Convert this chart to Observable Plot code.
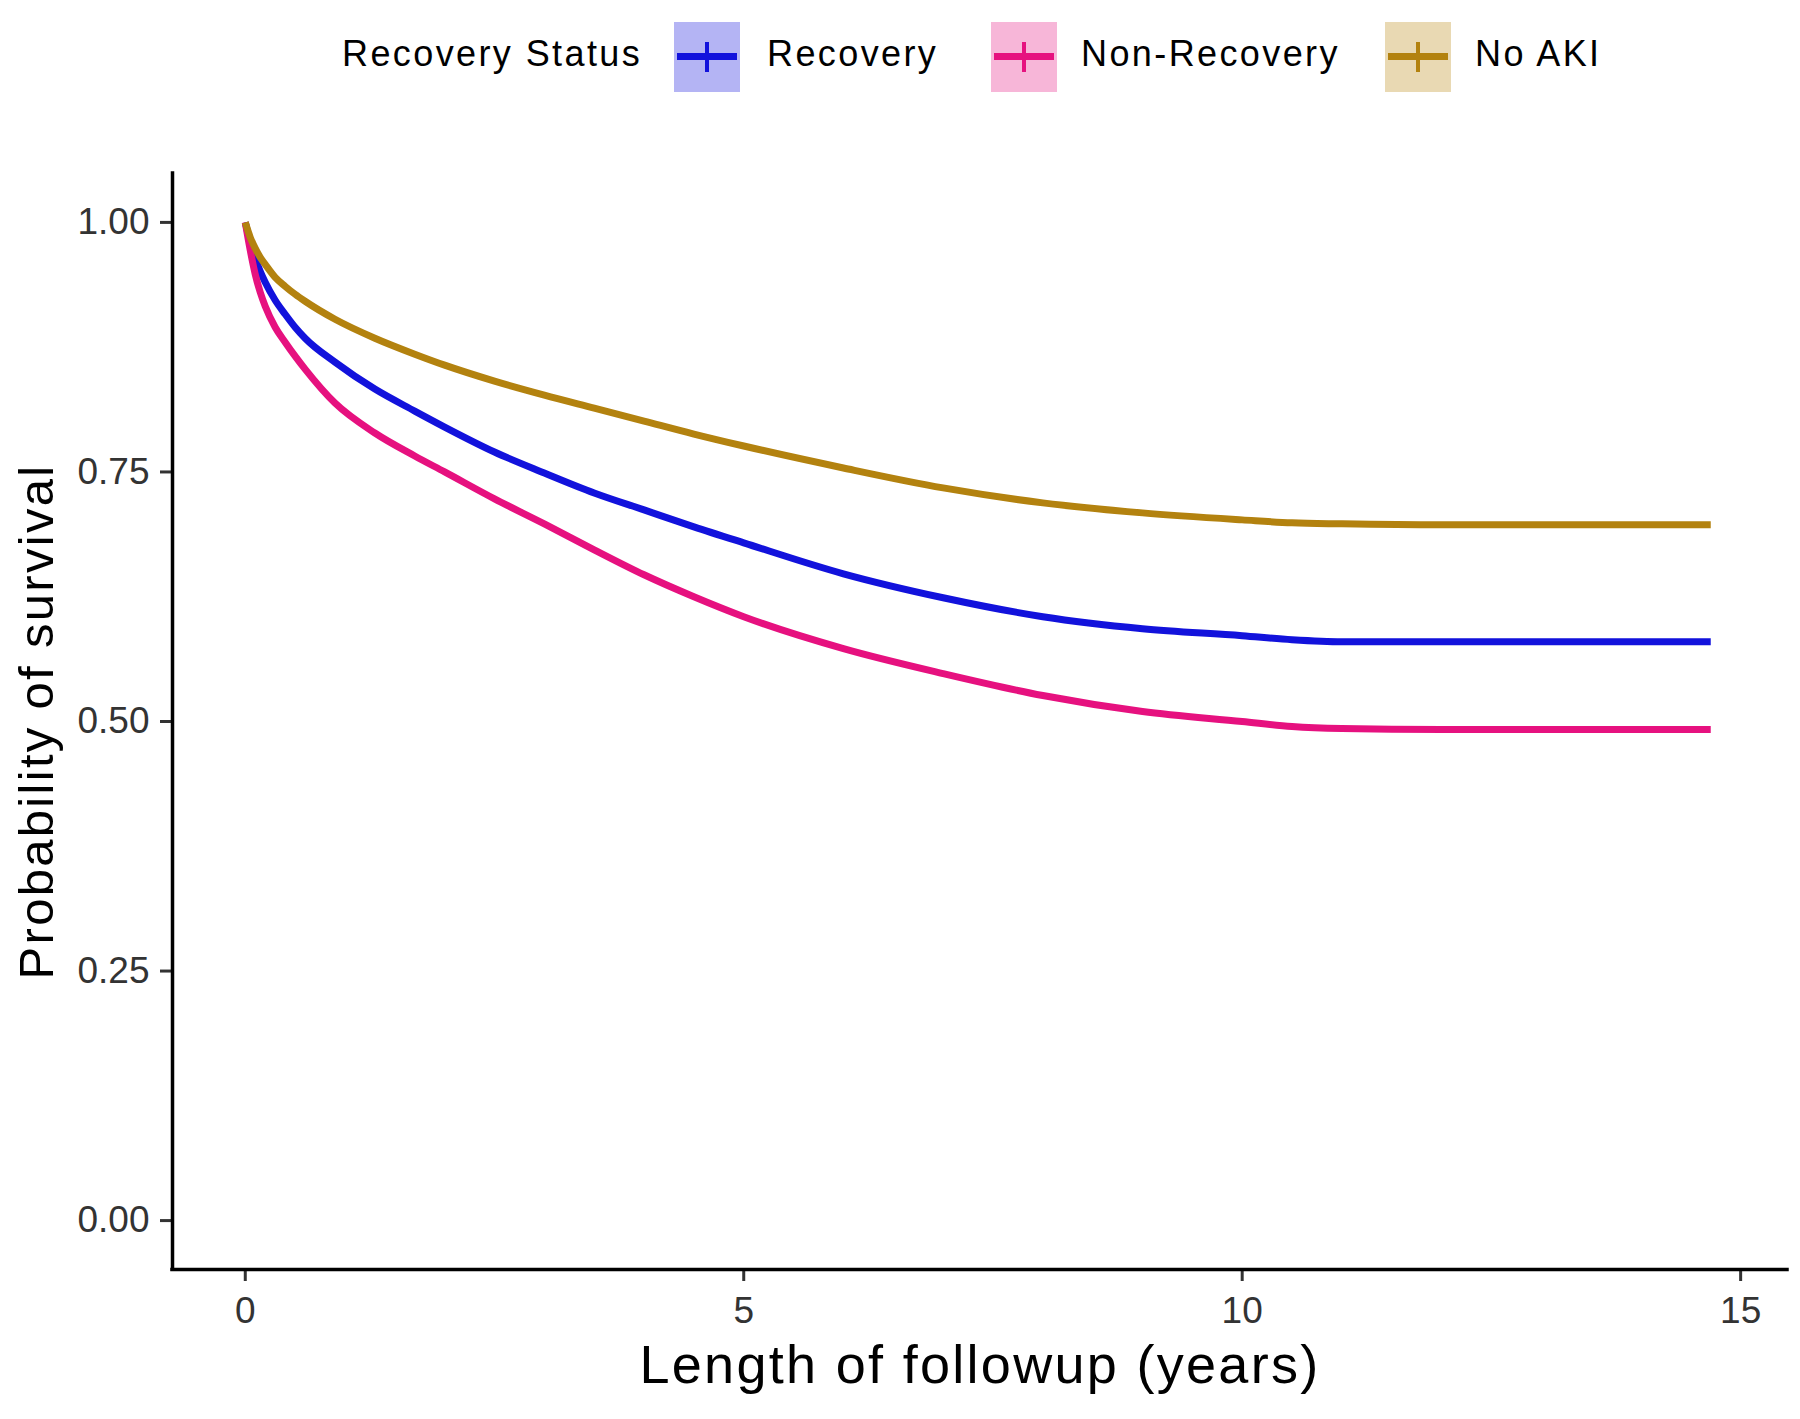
<!DOCTYPE html>
<html>
<head>
<meta charset="utf-8">
<script src="https://cdn.jsdelivr.net/npm/d3@7"></script>
<script src="https://cdn.jsdelivr.net/npm/@observablehq/plot@0.6"></script>
<style>
  html, body { margin: 0; padding: 0; background: #fff; }
  body { width: 1800px; font-family: "Liberation Sans", Arial, sans-serif; }
  #legend { position: relative; width: 1800px; height: 110px; }
  #legend .lab { position: absolute; top: 36px; font-size: 36px; line-height: 36px; letter-spacing: 2.4px; color: #000; white-space: nowrap; }
  #legend .key { position: absolute; top: 22px; width: 66px; height: 70px; }
  #legend .key .h { position: absolute; left: 3px; right: 3px; top: 31px; height: 7px; }
  #legend .key .v { position: absolute; left: 31px; width: 4px; top: 20px; height: 30px; }
</style>
</head>
<body>
<div id="legend"></div>
<div id="chart"></div>
<script>
// ---- data ----
const seriesNames = ["Recovery", "Non-Recovery", "No AKI"];
const seriesColors = ["#1212dc", "#e6117f", "#b3820f"];
const keyFills = ["#b4b4f4", "#f7b6d8", "#e9d9b3"];
const legendTitle = "Recovery Status";

const times       = [0, 0.05, 0.1, 0.15, 0.2, 0.3, 0.4, 0.5, 0.6, 0.9, 1.3, 1.7, 2.0, 2.5, 3.0, 3.5, 4.0, 4.5, 5.0, 6.0, 7.0, 8.0, 9.0, 10.0, 10.5, 11, 12, 13, 14, 14.7];
const recovery    = [1.0, 0.980, 0.964, 0.951, 0.940, 0.922, 0.908, 0.895, 0.884, 0.860, 0.833, 0.811, 0.795, 0.770, 0.749, 0.729, 0.712, 0.695, 0.679, 0.648, 0.624, 0.605, 0.593, 0.586, 0.582, 0.580, 0.580, 0.580, 0.580, 0.580];
const nonRecovery = [1.0, 0.972, 0.948, 0.930, 0.916, 0.895, 0.880, 0.866, 0.853, 0.819, 0.789, 0.766, 0.750, 0.723, 0.698, 0.672, 0.647, 0.625, 0.605, 0.573, 0.548, 0.526, 0.510, 0.500, 0.495, 0.493, 0.492, 0.492, 0.492, 0.492];
const noAKI       = [1.0, 0.985, 0.974, 0.965, 0.958, 0.945, 0.936, 0.928, 0.921, 0.903, 0.884, 0.868, 0.857, 0.841, 0.827, 0.814, 0.801, 0.788, 0.776, 0.754, 0.734, 0.719, 0.709, 0.702, 0.699, 0.698, 0.697, 0.697, 0.697, 0.697];

const xTicks = [0, 5, 10, 15];
const yTicks = [0, 0.25, 0.5, 0.75, 1.0];
const xLabel = "Length of followup (years)";
const yLabel = "Probability of survival";

// ---- table ----
const seriesValues = [recovery, nonRecovery, noAKI];
const rows = [];
seriesNames.forEach((name, i) => {
  times.forEach((t, j) => rows.push({time: t, surv: seriesValues[i][j], group: name}));
});

// ---- legend ----
const legend = document.getElementById("legend");
const legendPos = {title: 342, keys: [674, 991, 1385], labels: [767, 1081, 1475]};
function addLab(text, left) {
  const s = document.createElement("div");
  s.className = "lab"; s.textContent = text; s.style.left = left + "px";
  legend.appendChild(s);
}
addLab(legendTitle, legendPos.title);
seriesNames.forEach((name, i) => {
  const k = document.createElement("div");
  k.className = "key"; k.style.left = legendPos.keys[i] + "px"; k.style.background = keyFills[i];
  const h = document.createElement("div"); h.className = "h"; h.style.background = seriesColors[i];
  const v = document.createElement("div"); v.className = "v"; v.style.background = seriesColors[i];
  k.appendChild(h); k.appendChild(v);
  legend.appendChild(k);
  addLab(name, legendPos.labels[i]);
});

// ---- chart ----
const xDomain = [-0.73, 15.47];
const yDomain = [-0.049, 1.049];

const plot = Plot.plot({
  width: 1800,
  height: 1309,
  marginTop: 63,
  marginBottom: 150,
  marginLeft: 172,
  marginRight: 13,
  style: {fontFamily: '"Liberation Sans", Arial, sans-serif', background: "#fff"},
  x: {domain: xDomain},
  y: {domain: yDomain},
  color: {domain: seriesNames, range: seriesColors},
  marks: [
    Plot.axisX({ticks: xTicks, tickSize: 12, tickPadding: 15, fontSize: 37, color: "#333", strokeWidth: 3, label: null, tickFormat: d3.format("d")}),
    Plot.axisY({ticks: yTicks, tickSize: 12, tickPadding: 11, fontSize: 37, color: "#333", strokeWidth: 3, label: null, tickFormat: d3.format(".2f")}),
    Plot.ruleX([xDomain[0]], {stroke: "#000", strokeWidth: 3.5, strokeLinecap: "square"}),
    Plot.ruleY([yDomain[0]], {stroke: "#000", strokeWidth: 3.5, strokeLinecap: "square"}),
    Plot.line(rows, {x: "time", y: "surv", z: "group", stroke: "group", strokeWidth: 7, curve: "monotone-x", strokeLinecap: "butt"}),
    Plot.text([xLabel], {text: d => d, frameAnchor: "bottom", textAnchor: "middle", lineAnchor: "bottom", dy: 113, fontSize: 54, fill: "#000"}),
    Plot.text([yLabel], {text: d => d, frameAnchor: "left", textAnchor: "middle", lineAnchor: "middle", dx: -135, rotate: -90, fontSize: 49, fill: "#000"})
  ]
});
document.getElementById("chart").appendChild(plot);
d3.select(plot).selectAll("g[aria-label='text'] text").style("letter-spacing", "2.3px");
</script>
</body>
</html>
